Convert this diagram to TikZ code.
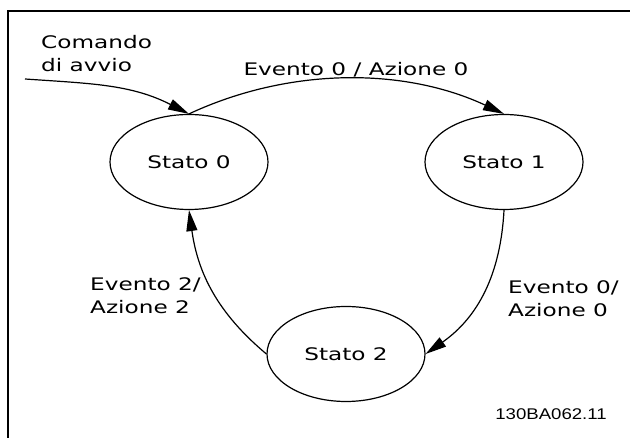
\documentclass[tikz,border=0pt]{standalone}
\usepackage{fontspec}
\setmainfont{DejaVu Sans}[FakeStretch=1.34]
\newfontfamily\codefont{Liberation Sans}[FakeStretch=1.2]
\usepackage{tikz}
\usetikzlibrary{arrows.meta,shapes.geometric}

\begin{document}
\begin{tikzpicture}[
  x=1pt, y=1pt,
  state/.style={draw, ellipse, line width=1.2pt, inner sep=0pt, minimum width=158pt, minimum height=95pt, font=\fontsize{17.3}{23}\selectfont},
  note/.style={align=left, inner sep=0pt, font=\fontsize{17.3}{23}\selectfont},
  code/.style={inner sep=0pt, font=\codefont\fontsize{15.5}{18}\selectfont},
  arr/.style={-{Triangle[length=21pt, width=11pt]}, line width=1.2pt},
  frame/.style={line width=2pt}
]
\useasboundingbox (0,0) rectangle (630,438);

% frame
\draw[frame] (8,0) -- (8,427) -- (631,427);

\node[state] (s0) at (189,276) {Stato 0};
\node[state] (s1) at (504,276) {Stato 1};
\node[state] (s2) at (346,84) {Stato 2};

\coordinate (start) at (25,359);
\node[note, anchor=west] (cmd) at (41,384) {Comando\\di avvio};

\draw[arr] (start) to[out=-4, in=153] (s0.north);
\draw[arr] (s0.north) to[out=25, in=155, looseness=0.9] (s1.north);
\node[note, anchor=base] (e01) at (356,362) {Evento 0 / Azione 0};

\draw[arr] (s1.south) to[out=-93, in=35] (s2.east);
\node[note, anchor=west] (e12) at (508,139) {Evento 0/\\Azione 0};

\draw[arr] (s2.west) to[out=140, in=-82] (s0.south);
\node[note, anchor=west] (e20) at (90,142) {Evento 2/\\Azione 2};

\node[code] (id) at (551,24) {130BA062.11};

\end{tikzpicture}
\end{document}
